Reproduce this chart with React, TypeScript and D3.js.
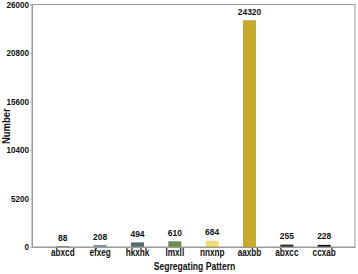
import React, { useRef, useEffect } from 'react';
import * as d3 from 'd3';

const patterns = ['abxcd', 'efxeg', 'hkxhk', 'lmxll', 'nnxnp', 'aaxbb', 'abxcc', 'ccxab'];
const counts = [88, 208, 494, 610, 684, 24320, 255, 228];
const barColors = ['#5b6b78', '#6e8ea3', '#4f6d73', '#6b8c4a', '#f0dc7a', '#c9a92c', '#2b2418', '#111111'];
const yTicks = [0, 5200, 10400, 15600, 20800, 26000];

const W = 358;
const H = 274;
const FONT = '"Liberation Sans", Arial, sans-serif';

export default function App() {
  const svgRef = useRef<SVGSVGElement>(null);

  useEffect(() => {
    if (!svgRef.current) return;
    const svg = d3.select(svgRef.current);
    svg.selectAll('*').remove();

    const margin = { top: 4.5, right: 3, bottom: 27, left: 32 };
    const innerW = W - margin.left - margin.right;
    const innerH = H - margin.top - margin.bottom;

    const x = d3.scaleBand<string>().domain(patterns).range([0, innerW]).padding(0.65);
    const y = d3.scaleLinear().domain([0, 26000]).range([innerH, 0]);

    const g = svg.append('g').attr('transform', `translate(${margin.left},${margin.top})`);

    // bars
    g.selectAll('rect.bar')
      .data(counts)
      .enter()
      .append('rect')
      .attr('class', 'bar')
      .attr('x', (_, i) => x(patterns[i])!)
      .attr('y', d => y(d))
      .attr('width', x.bandwidth())
      .attr('height', d => innerH - y(d))
      .attr('fill', (_, i) => barColors[i]);

    // value labels (narrow bold look via horizontal squeeze)
    g.selectAll('text.val')
      .data(counts)
      .enter()
      .append('text')
      .attr('class', 'val')
      .attr('transform', (d, i) => `translate(${x(patterns[i])! + x.bandwidth() / 2},${y(d) - 5.5}) scale(0.9,1)`)
      .attr('text-anchor', 'middle')
      .attr('font-family', FONT)
      .attr('font-weight', 'bold')
      .attr('font-size', 9.4)
      .attr('fill', '#111')
      .text(d => d);

    // frame
    g.append('rect')
      .attr('x', 0)
      .attr('y', 0)
      .attr('width', innerW)
      .attr('height', innerH)
      .attr('fill', 'none')
      .attr('stroke', '#999')
      .attr('stroke-width', 1);

    // y axis
    const yAxis = g.append('g')
      .call(d3.axisLeft(y).tickValues(yTicks).tickSize(2).tickPadding(1.5).tickFormat(d => String(d)));
    yAxis.select('.domain').attr('stroke', '#999');
    yAxis.selectAll('.tick line').attr('stroke', '#bbb');
    yAxis.selectAll('text')
      .attr('transform', 'scale(0.88,1)')
      .attr('font-family', FONT)
      .attr('font-weight', 'bold')
      .attr('font-size', 9.2)
      .attr('fill', '#111');

    // x axis
    const xAxis = g.append('g')
      .attr('transform', `translate(0,${innerH})`)
      .call(d3.axisBottom(x).tickSize(0).tickPadding(2));
    xAxis.select('.domain').attr('stroke', '#999');
    xAxis.selectAll('text')
      .attr('transform', 'scale(0.82,1)')
      .attr('font-family', FONT)
      .attr('font-weight', 'bold')
      .attr('font-size', 10)
      .attr('fill', '#111');

    // axis titles
    svg.append('text')
      .attr('transform', `translate(${margin.left + innerW / 2 + 1},269.5) scale(0.74,1)`)
      .attr('text-anchor', 'middle')
      .attr('font-family', FONT)
      .attr('font-weight', 'bold')
      .attr('font-size', 11.6)
      .attr('fill', '#111')
      .text('Segregating Pattern');

    svg.append('text')
      .attr('transform', `translate(9.5,${margin.top + innerH / 2 + 0.5}) rotate(-90) scale(0.86,1)`)
      .attr('text-anchor', 'middle')
      .attr('font-family', FONT)
      .attr('font-weight', 'bold')
      .attr('font-size', 11)
      .attr('fill', '#111')
      .text('Number');
  }, []);

  return (
    <div style={{ position: 'fixed', left: 0, top: 0, width: W, height: H, background: '#fff' }}>
      <svg ref={svgRef} width={W} height={H} />
    </div>
  );
}
